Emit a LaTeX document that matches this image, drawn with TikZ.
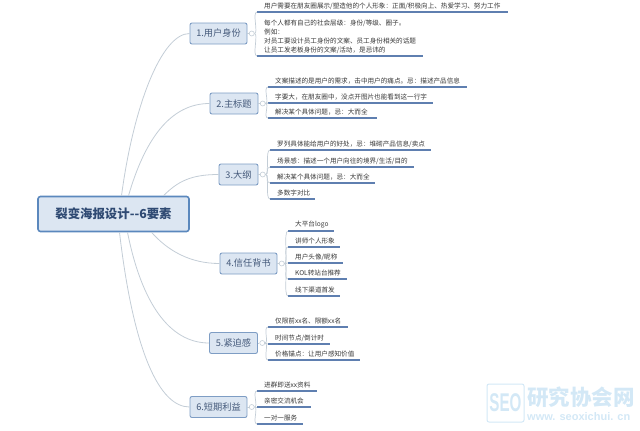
\documentclass[tikz,border=0pt]{standalone}
\usepackage{fontspec}
\setmainfont{Noto Sans CJK SC}
\newfontfamily\latinfont{Liberation Sans}
\definecolor{boxfill}{HTML}{DCE6F2}
\definecolor{boxline}{HTML}{7E9DC4}
\definecolor{rootline}{HTML}{5B88BD}
\definecolor{rootink}{HTML}{2F4A73}
\definecolor{branchink}{HTML}{44597A}
\definecolor{stem}{HTML}{C3CDD6}
\definecolor{rule}{HTML}{5F7FB0}
\definecolor{mark}{HTML}{D3E8F6}
\tikzset{
    rootbox/.style={draw=rootline, fill=boxfill, line width=1.6pt, rounded corners=2.5pt,
        text=rootink, font=\fontsize{12.4}{14}\selectfont\bfseries, inner sep=0pt},
    branchbox/.style={draw=boxline, fill=boxfill, line width=.9pt, rounded corners=2pt,
        text=branchink, font=\fontsize{9.2}{11}\selectfont, inner sep=0pt},
    hubdot/.style={circle, draw=stem, fill=white, line width=.6pt, inner sep=0pt, minimum size=5pt},
    leaf/.style={anchor=south west, inner xsep=7pt, inner ysep=2.6pt, align=left,
        text=black!78, font=\fontsize{6.6}{9}\selectfont},
    bough/.style={draw=stem, line width=.8pt},
    twig/.style={draw=stem, line width=.7pt},
    underline/.style={draw=rule, line width=1.1pt},
}
\begin{document}
\begin{tikzpicture}[x=1pt, y=-1pt]
\useasboundingbox (0, 0) rectangle (640, 431);

\node[rootbox, minimum width=151pt, minimum height=35pt] (root) at (113.5, 214) {裂变海报设计-{}-6要素};

\foreach \name/\x/\y/\w/\txt in {b1/218.5/33.5/57/1.用户身份, b2/234/103.5/48/2.主标题,
    b3/238.5/174.5/39/3.大纲, b4/248.5/263.5/57/4.信任背书,
    b5/233.5/343/48/5.紧迫感, b6/218.5/407/57/6.短期利益} {
    \node[branchbox, minimum width=\w pt, minimum height=21pt] (\name) at (\x, \y) {\txt};
}

% hubs sit against the right edge of each box
\foreach \name/\owner in {h1/b1, h2/b2, h3/b3, h4/b4, h5/b5, h6/b6} {
    \node[hubdot, anchor=west] (\name) at ([xshift=1.5pt]\owner.east) {};
    \draw[twig] (\owner.east) -- (\name);
}

\draw[bough] ([xshift=8pt]root.north) .. controls +(12, -90) and +(-28, 0) .. (b1.west);
\draw[bough] ([xshift=15pt]root.north) .. controls +(16, -55) and +(-40, 0) .. (b2.west);
\draw[bough] ([xshift=50pt]root.north) .. controls +(14, -14) and +(-28, 0) .. (b3.west);
\draw[bough] ([xshift=38pt]root.south) .. controls +(16, 18) and +(-30, 0) .. (b4.west);
\draw[bough] ([xshift=14pt]root.south) .. controls +(14, 70) and +(-40, 0) .. (b5.west);
\draw[bough] ([xshift=6pt]root.south) .. controls +(14, 120) and +(-30, 0) .. (b6.west);

\foreach \name/\hub/\x/\y/\w/\txt in {
    a1/h1/257/12/251/{用户需要在朋友圈展示/塑造他的个人形象：正面/积极向上、热爱学习、努力工作},
    a2/h1/257/56/166/{每个人都有自己的社会层级：身份/等级、圈子。\\例如：\\对员工要设计员工身份的文案、员工身份相关的话题\\让员工发老板身份的文案/活动，是忌讳的},
    c1/h2/268/87/199/文案描述的是用户的需求，击中用户的痛点。忌：描述产品信息,
    c2/h2/268/103/165/字要大，在朋友圈中，没点开图片也能看到这一行字,
    c3/h2/268/118/109/解决某个具体问题，忌：大而全,
    d1/h3/270/150/161/{罗列具体能给用户的好处，忌：堆砌产品信息/卖点},
    d2/h3/270/167/144/{场景感：描述一个用户向往的境界/生活/目的},
    d3/h3/270/183/105/解决某个具体问题，忌：大而全,
    d4/h3/270/199/45/多数字对比,
    e1/h4/288/231/46/大平台logo,
    e2/h4/288/247/52/讲师个人形象,
    e3/h4/288/263/55/{用户头像/昵称},
    e4/h4/288/279/59/KOL转站台推荐,
    e5/h4/288/296/52/线下渠道首发,
    f1/h5/268/327/80/仅限前xx名、限额xx名,
    f2/h5/268/344/62/{时间节点/倒计时},
    f3/h5/268/360/92/价格锚点：让用户感知价值,
    g1/h6/257/391/60/进群即送xx资料,
    g2/h6/257/407/54/亲密交流机会,
    g3/h6/257/424/46/一对一服务} {
    \node[leaf, text width=\w pt - 14pt] (\name) at (\x, \y) {\txt};
    \draw[underline] (\name.south west) -- (\name.south east);
    \draw[twig] (\hub.east) .. controls +(4, 0) and +(-5, 0) .. (\name.south west);
}

% watermark
\node[draw=mark, line width=1pt, rounded corners=2pt, minimum width=37pt, minimum height=38pt,
    inner sep=0pt, text=mark] (seo) at (505.5, 403)
    {\latinfont\bfseries\fontsize{19}{19}\selectfont\scalebox{.8}[1.35]{SEO}};
\node[anchor=west, inner sep=0pt, text=mark, font=\fontsize{21.5}{21}\selectfont\bfseries] (site) at (527, 397) {研究协会网};
\node[anchor=west, inner sep=0pt, text=mark, font=\latinfont\fontsize{11}{11}\selectfont\bfseries] (url) at (527, 417) {www. seoxichui. cn};
\end{tikzpicture}
\end{document}
